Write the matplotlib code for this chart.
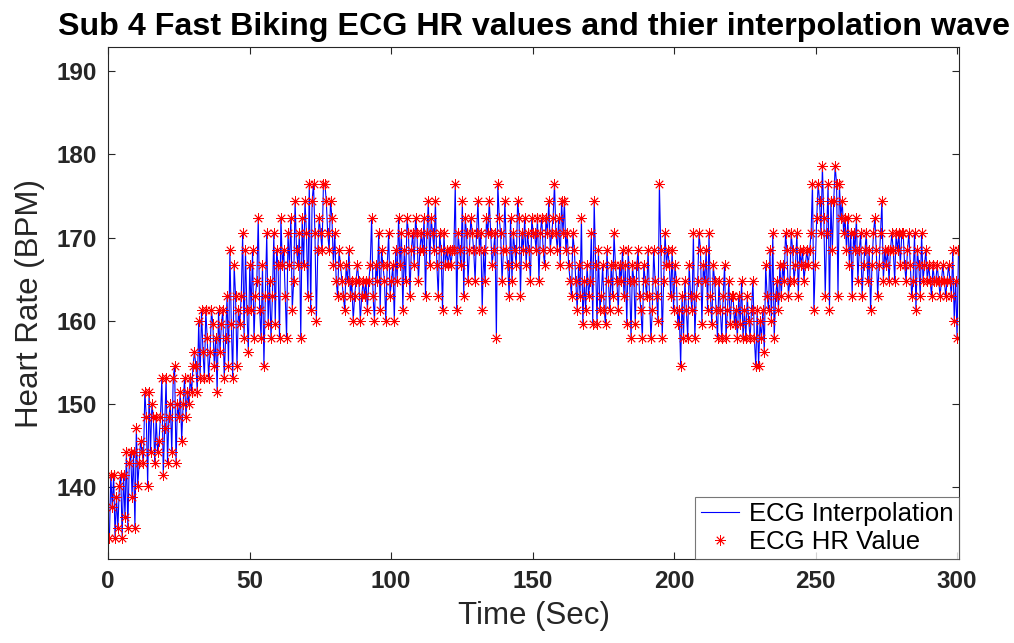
import numpy as np
import matplotlib
matplotlib.use("Agg")
import matplotlib.pyplot as plt

# heart rate values (BPM), 20 per 10 s block
hr_values = [
    # 0-10 s
    133.9, 141.5, 137.6, 141.5, 133.9, 138.9, 135.1, 140.2, 141.5, 133.9,
    141.5, 136.4, 144.2, 135.1, 142.9, 144.2, 138.9, 144.2, 135.1, 147.1,
    # 10-20 s
    140.2, 142.9, 145.6, 144.2, 142.9, 151.5, 148.5, 140.2, 151.5, 144.2,
    150.0, 148.5, 142.9, 148.5, 144.2, 145.6, 148.5, 153.1, 141.5, 147.1,
    # 20-30 s
    153.1, 142.9, 148.5, 150.0, 144.2, 153.1, 154.6, 142.9, 150.0, 148.5,
    151.5, 145.6, 150.0, 153.1, 148.5, 151.5, 150.0, 153.1, 151.5, 154.6,
    # 30-40 s
    156.3, 154.6, 151.5, 160.0, 153.1, 161.3, 156.3, 153.1, 161.3, 157.9,
    153.1, 156.3, 161.3, 159.6, 154.6, 157.9, 151.5, 161.3, 156.3, 159.6,
    # 40-50 s
    161.3, 153.1, 157.9, 163.0, 154.6, 168.5, 159.6, 153.1, 166.7, 163.0,
    154.6, 161.3, 159.6, 163.0, 170.5, 157.9, 168.5, 161.3, 156.3, 166.7,
    # 50-60 s
    161.3, 168.5, 157.9, 163.0, 164.8, 172.4, 161.3, 157.9, 166.7, 154.6,
    163.0, 170.5, 159.6, 164.8, 157.9, 163.0, 170.5, 159.6, 168.5, 166.7,
    # 60-70 s
    157.9, 172.4, 166.7, 168.5, 163.0, 157.9, 170.5, 166.7, 172.4, 161.3,
    164.8, 174.4, 168.5, 166.7, 170.5, 157.9, 172.4, 166.7, 174.4, 170.5,
    # 70-80 s
    163.0, 176.5, 161.3, 174.4, 176.5, 170.5, 160.0, 168.5, 172.4, 170.5,
    168.5, 176.5, 176.5, 174.4, 170.5, 168.5, 174.4, 172.4, 166.7, 170.5,
    # 80-90 s
    164.8, 163.0, 168.5, 166.7, 164.8, 163.0, 161.3, 166.7, 164.8, 168.5,
    163.0, 164.8, 160.0, 163.0, 164.8, 166.7, 164.8, 160.0, 163.0, 164.8,
    # 90-100 s
    163.0, 164.8, 161.3, 164.8, 166.7, 172.4, 163.0, 160.0, 166.7, 164.8,
    170.5, 161.3, 168.5, 166.7, 164.8, 160.0, 166.7, 170.5, 163.0, 164.8,
    # 100-110 s
    166.7, 160.0, 168.5, 164.8, 172.4, 166.7, 170.5, 161.3, 168.5, 164.8,
    172.4, 170.5, 163.0, 168.5, 170.5, 166.7, 172.4, 170.5, 164.8, 168.5,
    # 110-120 s
    170.5, 168.5, 172.4, 163.0, 170.5, 174.4, 166.7, 172.4, 170.5, 168.5,
    174.4, 166.7, 163.0, 170.5, 168.5, 161.3, 170.5, 166.7, 168.5, 166.7,
    # 120-130 s
    168.5, 166.7, 168.5, 168.5, 176.5, 161.3, 170.5, 168.5, 166.7, 174.4,
    163.0, 172.4, 170.5, 164.8, 168.5, 172.4, 170.5, 168.5, 164.8, 170.5,
    # 130-140 s
    174.4, 168.5, 170.5, 161.3, 168.5, 164.8, 172.4, 170.5, 174.4, 170.5,
    166.7, 168.5, 170.5, 157.9, 176.5, 172.4, 170.5, 164.8, 168.5, 174.4,
    # 140-150 s
    168.5, 166.7, 163.0, 172.4, 164.8, 170.5, 168.5, 166.7, 174.4, 172.4,
    163.0, 170.5, 168.5, 172.4, 166.7, 170.5, 168.5, 164.8, 172.4, 170.5,
    # 150-160 s
    170.5, 168.5, 172.4, 164.8, 170.5, 172.4, 168.5, 166.7, 172.4, 170.5,
    174.4, 168.5, 170.5, 172.4, 176.5, 170.5, 168.5, 172.4, 166.7, 174.4,
    # 160-170 s
    170.5, 174.4, 168.5, 170.5, 166.7, 164.8, 163.0, 170.5, 168.5, 164.8,
    161.3, 166.7, 163.0, 172.4, 159.6, 164.8, 161.3, 166.7, 163.0, 164.8,
    # 170-180 s
    170.5, 159.6, 174.4, 166.7, 159.6, 168.5, 161.3, 163.0, 166.7, 161.3,
    159.6, 168.5, 164.8, 161.3, 166.7, 163.0, 170.5, 166.7, 164.8, 161.3,
    # 180-190 s
    166.7, 164.8, 168.5, 163.0, 166.7, 159.6, 168.5, 164.8, 157.9, 166.7,
    164.8, 159.6, 166.7, 168.5, 163.0, 161.3, 157.9, 166.7, 164.8, 163.0,
    # 190-200 s
    168.5, 163.0, 157.9, 161.3, 168.5, 164.8, 163.0, 160.0, 176.5, 168.5,
    157.9, 164.8, 170.5, 166.7, 168.5, 166.7, 163.0, 168.5, 161.3, 166.7,
    # 200-210 s
    164.8, 159.6, 161.3, 154.6, 163.0, 157.9, 164.8, 161.3, 157.9, 166.7,
    163.0, 161.3, 170.5, 157.9, 163.0, 164.8, 170.5, 168.5, 159.6, 166.7,
    # 210-220 s
    164.8, 168.5, 161.3, 170.5, 163.0, 159.6, 166.7, 164.8, 161.3, 157.9,
    164.8, 161.3, 157.9, 163.0, 166.7, 157.9, 161.3, 164.8, 159.6, 163.0,
    # 220-230 s
    163.0, 159.6, 161.3, 157.9, 163.0, 159.6, 164.8, 157.9, 161.3, 157.9,
    163.0, 160.0, 157.9, 161.3, 164.8, 157.9, 154.6, 161.3, 154.6, 160.0,
    # 230-240 s
    157.9, 161.3, 156.3, 166.7, 163.0, 161.3, 168.5, 160.0, 170.5, 157.9,
    163.0, 164.8, 161.3, 166.7, 163.0, 166.7, 164.8, 170.5, 168.5, 163.0,
    # 240-250 s
    164.8, 170.5, 168.5, 164.8, 166.7, 170.5, 163.0, 168.5, 166.7, 168.5,
    164.8, 166.7, 168.5, 166.7, 168.5, 170.5, 176.5, 161.3, 166.7, 172.4,
    # 250-260 s
    176.5, 174.4, 170.5, 178.6, 172.4, 163.0, 170.5, 176.5, 161.3, 174.4,
    168.5, 174.4, 178.6, 176.5, 163.0, 176.5, 172.4, 174.4, 170.5, 172.4,
    # 260-270 s
    168.5, 172.4, 166.7, 170.5, 163.0, 170.5, 168.5, 172.4, 164.8, 168.5,
    170.5, 163.0, 166.7, 168.5, 170.5, 164.8, 168.5, 161.3, 166.7, 170.5,
    # 270-280 s
    172.4, 168.5, 163.0, 166.7, 170.5, 174.4, 164.8, 168.5, 166.7, 168.5,
    164.8, 168.5, 170.5, 168.5, 164.8, 170.5, 168.5, 170.5, 166.7, 170.5,
    # 280-290 s
    170.5, 166.7, 164.8, 168.5, 170.5, 166.7, 163.0, 164.8, 170.5, 161.3,
    168.5, 166.7, 163.0, 170.5, 164.8, 166.7, 168.5, 164.8, 166.7, 164.8,
    # 290-300 s
    163.0, 166.7, 164.8, 164.8, 166.7, 164.8, 163.0, 164.8, 166.7, 164.8,
    163.0, 164.8, 166.7, 164.8, 163.0, 168.5, 160.0, 164.8, 157.9, 168.5,
]
t_first = 0.5    # s, first beat
t_last = 300.5   # s, last beat

x_ticks = [0, 50, 100, 150, 200, 250, 300]
y_ticks = [140, 150, 160, 170, 180, 190]

hr = np.array(hr_values)
t = np.linspace(t_first, t_last, len(hr))

plt.rcParams['font.family'] = ['Liberation Sans', 'DejaVu Sans']

fig = plt.figure(figsize=(10.14, 6.43), dpi=100)
ax = fig.add_axes([0.1065, 0.1306, 0.8393, 0.7963])

ax.plot(t, hr, color='blue', lw=0.8, label='ECG Interpolation')
ax.plot(t, hr, ls='none', marker=(8, 2, 0), ms=7.5, mew=0.6,
        color='red', label='ECG HR Value')

ax.set_xlim(0, 300.7)
ax.set_ylim(131.4, 192.9)
ax.set_xticks(x_ticks)
ax.set_yticks(y_ticks)
ax.tick_params(direction='in', top=True, right=True, length=5,
               labelsize=17.5, colors='#262626', width=0.8, pad=8)
for lab in ax.get_xticklabels() + ax.get_yticklabels():
    lab.set_fontweight('bold')
for s in ax.spines.values():
    s.set_color('#262626')
    s.set_linewidth(0.8)

ax.set_xlabel('Time (Sec)', fontsize=22.5, color='#262626', labelpad=6)
ax.set_ylabel('Heart Rate (BPM)', fontsize=22.5, color='#262626', labelpad=8)
ax.set_title('Sub 4 Fast Biking ECG HR values and thier interpolation wave',
             fontsize=23.2, fontweight='bold', pad=9)

leg = ax.legend(loc='lower right', fontsize=18.5, borderaxespad=0,
                fancybox=False, handlelength=1.5, labelspacing=0.15,
                borderpad=0.2, handletextpad=0.4)
leg.get_frame().set_edgecolor('#555555')
leg.get_frame().set_linewidth(0.8)

fig.savefig('out.png', dpi=100)
